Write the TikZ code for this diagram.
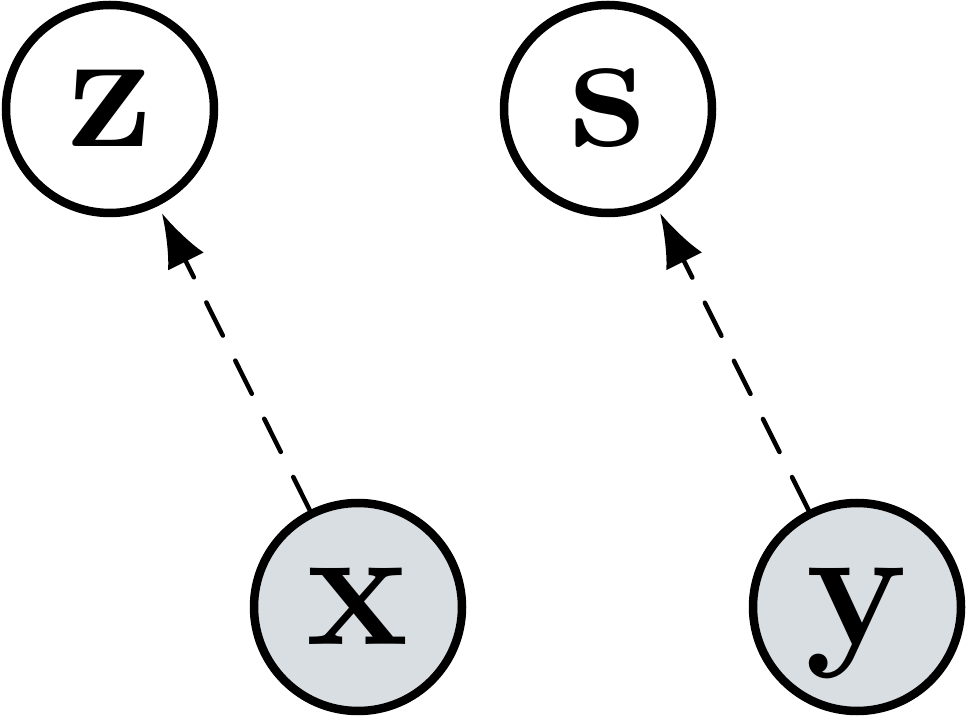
\documentclass[tikz,border=0pt]{standalone}
\usepackage{fontspec}
\usetikzlibrary{arrows.meta}
\definecolor{obsfill}{RGB}{217,222,227}
\begin{document}
\begin{tikzpicture}[x=1pt,y=1pt,
  var/.style={circle,draw=black,line width=8.5pt,minimum size=208pt,inner sep=0pt,
    text height=76pt,text depth=0pt,
    font=\fontsize{172}{180}\selectfont\bfseries},
  obs/.style={var,fill=obsfill},
  dep/.style={line width=4.5pt,line cap=round,dash pattern=on 37pt off 28pt,
    -{Latex[length=54pt,width=40pt]},shorten >=8pt}]
\useasboundingbox (0,0) rectangle (969,720);
\node[var] (z) at (110,611) {z};
\node[var] (s) at (608,611) {s};
\node[obs] (x) at (358,113) {x};
\node[obs] (y) at (857,113) {y};
\draw[dep] (x) -- (z);
\draw[dep] (y) -- (s);
\end{tikzpicture}
\end{document}
